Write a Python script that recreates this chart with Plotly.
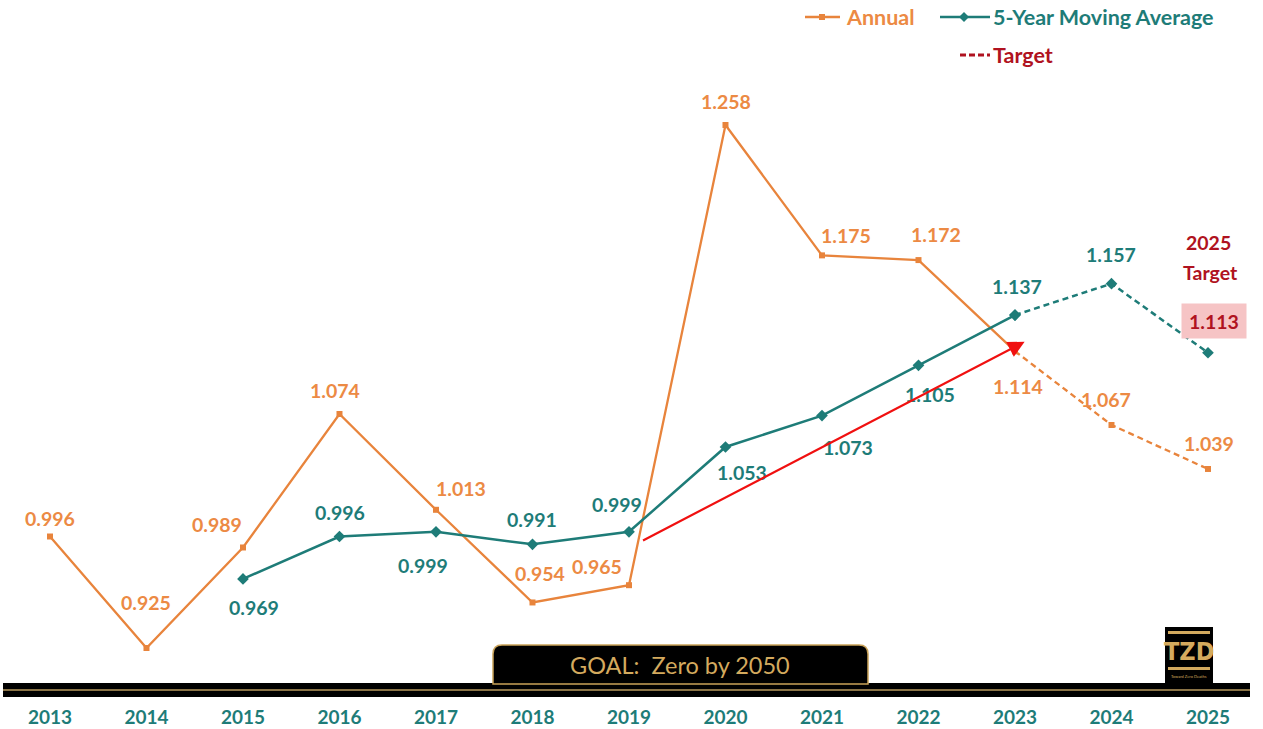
import plotly.graph_objects as go

years = [2013, 2014, 2015, 2016, 2017, 2018, 2019, 2020, 2021, 2022, 2023, 2024, 2025]
annual = [0.996, 0.925, 0.989, 1.074, 1.013, 0.954, 0.965, 1.258, 1.175, 1.172, 1.114, 1.067, 1.039]
ma_years = [2015, 2016, 2017, 2018, 2019, 2020, 2021, 2022, 2023, 2024, 2025]
moving_avg = [0.969, 0.996, 0.999, 0.991, 0.999, 1.053, 1.073, 1.105, 1.137, 1.157, 1.113]
tick_labels = [str(y) for y in years]
actual_last = 2023  # last actual year; later years are projected (dashed)
target_year = 2025
target_value = 1.113

# label placement (pixel offsets, style only)
annual_dx = [0, 0, -26, -4, 25, 8, -32, 1, 24, 18, 3, -5, 1]
annual_dy = [18, 46, 23, 24, 21, 29, 19, 24, 20, 26, -35, 25, 25]
ma_dx = [11, 1, -13, 0, -12, 17, 26, 12, 2, 0]
ma_dy = [-29, 24, -34, 25, 27, -26, -32, -29, 29, 29]

ORANGE = "#E8843C"
ORANGE_TXT = "#EC8A44"
TEAL = "#1E7C78"
DARKRED = "#B01220"
GOLD = "#D4AA5E"
FONT = "Lato"
LBL = 19.5
LEG = 21.5

fig = go.Figure()

ia = years.index(actual_last)
fig.add_trace(go.Scatter(x=years[:ia + 1], y=annual[:ia + 1], mode="lines+markers",
                         line=dict(color=ORANGE, width=2.3),
                         marker=dict(symbol="square", size=6, color=ORANGE), showlegend=False))
fig.add_trace(go.Scatter(x=years[ia:], y=annual[ia:], mode="lines+markers",
                         line=dict(color=ORANGE, width=2.3, dash="6px,4px"),
                         marker=dict(symbol="square", size=6, color=ORANGE), showlegend=False))
im = ma_years.index(actual_last)
fig.add_trace(go.Scatter(x=ma_years[:im + 1], y=moving_avg[:im + 1], mode="lines+markers",
                         line=dict(color=TEAL, width=2.5),
                         marker=dict(symbol="diamond", size=9, color=TEAL), showlegend=False))
fig.add_trace(go.Scatter(x=ma_years[im:], y=moving_avg[im:], mode="lines+markers",
                         line=dict(color=TEAL, width=2.5, dash="6px,4px"),
                         marker=dict(symbol="diamond", size=9, color=TEAL), showlegend=False))

annotations = []
for x, v, dx, dy in zip(years, annual, annual_dx, annual_dy):
    annotations.append(dict(x=x, y=v, text=f"{v:.3f}", showarrow=False, xshift=dx, yshift=dy,
                            font=dict(family=FONT, size=LBL, color=ORANGE_TXT, weight="bold")))
for x, v, dx, dy in zip(ma_years[:-1], moving_avg[:-1], ma_dx, ma_dy):
    annotations.append(dict(x=x, y=v, text=f"{v:.3f}", showarrow=False, xshift=dx, yshift=dy,
                            font=dict(family=FONT, size=LBL, color=TEAL, weight="bold")))

# target label
annotations.append(dict(x=target_year, y=target_value, text=f"{target_value:.3f}", showarrow=False,
                        xshift=6, yshift=32, bgcolor="#F6C4C5", width=62, height=32,
                        font=dict(family=FONT, size=LBL, color=DARKRED, weight="bold")))
annotations.append(dict(x=target_year, y=target_value, text=f"{target_year}", showarrow=False,
                        xshift=1, yshift=110,
                        font=dict(family=FONT, size=LBL, color=DARKRED, weight="bold")))
annotations.append(dict(x=target_year, y=target_value, text="Target", showarrow=False,
                        xshift=3, yshift=80,
                        font=dict(family=FONT, size=LBL, color=DARKRED, weight="bold")))

# red trend arrow
annotations.append(dict(x=2023.1, y=1.12, ax=2019.13, ay=0.993, xref="x", yref="y",
                        axref="x", ayref="y", text="", showarrow=True, arrowhead=2,
                        arrowsize=1.5, arrowwidth=2.2, arrowcolor="#F01010"))

# legend (manual)
W, H = 1263.0, 689.0
def px(xp):
    return xp / W
def py(yp):
    return (H - yp) / H

def paper_text(x, y, text, size, color, bold=True, xanchor="center", family=FONT):
    return dict(x=px(x), y=py(y), xref="paper", yref="paper", xanchor=xanchor, yanchor="middle",
                text=text, showarrow=False,
                font=dict(family=family, size=size, color=color, weight="bold" if bold else "normal"))

shapes = []
shapes.append(dict(type="line", xref="paper", yref="paper", x0=px(805), x1=px(840), y0=py(17), y1=py(17),
                   line=dict(color=ORANGE, width=2.3)))
shapes.append(dict(type="rect", xref="paper", yref="paper", x0=px(819), x1=px(825), y0=py(20), y1=py(14),
                   fillcolor=ORANGE, line=dict(width=0)))
annotations.append(paper_text(844, 17, "Annual", LEG, ORANGE_TXT, xanchor="left"))
shapes.append(dict(type="line", xref="paper", yref="paper", x0=px(940), x1=px(990), y0=py(17), y1=py(17),
                   line=dict(color=TEAL, width=2.3)))
shapes.append(dict(type="path", xref="paper", yref="paper",
                   path=f"M {px(959)},{py(17)} L {px(964)},{py(12)} L {px(969)},{py(17)} L {px(964)},{py(22)} Z",
                   fillcolor=TEAL, line=dict(width=0)))
annotations.append(paper_text(991, 17, "5-Year Moving Average", LEG, TEAL, xanchor="left"))
shapes.append(dict(type="line", xref="paper", yref="paper", x0=px(960), x1=px(990), y0=py(55), y1=py(55),
                   line=dict(color=DARKRED, width=3, dash="6px,3px")))
annotations.append(paper_text(991, 55, "Target", LEG, DARKRED, xanchor="left"))

# bottom band
shapes.append(dict(type="rect", xref="paper", yref="paper", x0=px(3), x1=px(1250), y0=py(697), y1=py(683),
                   fillcolor="black", line=dict(width=0)))
shapes.append(dict(type="line", xref="paper", yref="paper", x0=px(3), x1=px(1250), y0=py(690), y1=py(690),
                   line=dict(color="#B89A5E", width=1.6)))

# GOAL box with rounded top corners
x0, x1, y0, y1 = px(493), px(868), py(684), py(645)
rx, ry = px(9), 9 / H
goal_path = (f"M {x0},{y0} L {x0},{y1 - ry} Q {x0},{y1} {x0 + rx},{y1} "
             f"L {x1 - rx},{y1} Q {x1},{y1} {x1},{y1 - ry} L {x1},{y0} Z")
shapes.append(dict(type="path", xref="paper", yref="paper", path=goal_path,
                   fillcolor="black", line=dict(color="#C9A258", width=1.5)))
annotations.append(paper_text(680, 665, "GOAL:  Zero by 2050", 23.5, GOLD, bold=False))

# TZD logo
shapes.append(dict(type="rect", xref="paper", yref="paper", x0=px(1165), x1=px(1213), y0=py(684), y1=py(627),
                   fillcolor="black", line=dict(width=0)))
shapes.append(dict(type="rect", xref="paper", yref="paper", x0=px(1168), x1=px(1210), y0=py(634), y1=py(631),
                   fillcolor=GOLD, line=dict(width=0)))
shapes.append(dict(type="rect", xref="paper", yref="paper", x0=px(1168), x1=px(1210), y0=py(670), y1=py(667),
                   fillcolor=GOLD, line=dict(width=0)))
annotations.append(paper_text(1189, 651, "TZD", 25, GOLD, family="DejaVu Sans Condensed"))
annotations.append(paper_text(1189, 676, "Toward Zero Deaths", 4, GOLD, bold=False))

fig.update_layout(
    width=1263, height=729,
    margin=dict(l=0, r=0, t=0, b=40),
    paper_bgcolor="white", plot_bgcolor="white",
    xaxis=dict(range=[2012.482, 2025.57], tickvals=years, ticktext=tick_labels, showgrid=False,
               zeroline=False, showline=False, ticks="", ticklabelstandoff=15,
               tickfont=dict(family=FONT, size=19, color=TEAL, weight="bold")),
    yaxis=dict(range=[0.8989, 1.3376], visible=False),
    shapes=shapes, annotations=annotations,
)

fig.write_html("out.html", config={"displayModeBar": False},
               post_script="document.body.style.margin='0';document.body.style.padding='0';")
